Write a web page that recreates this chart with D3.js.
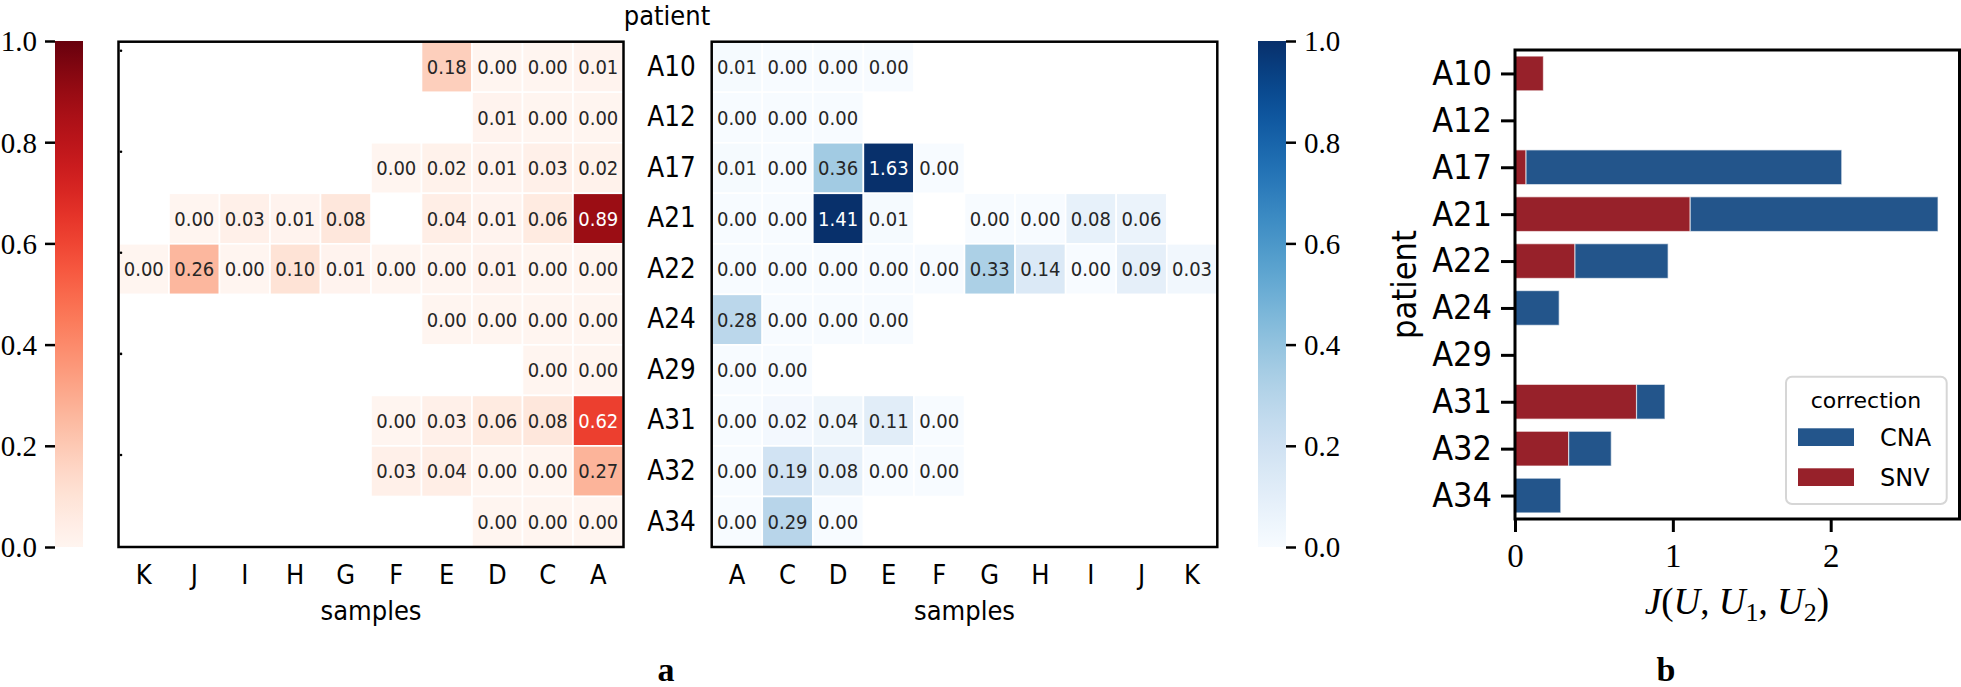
<!DOCTYPE html>
<html>
<head>
<meta charset="utf-8">
<script src="https://cdn.jsdelivr.net/npm/d3@7"></script>
<style>
  body { margin: 0; background: #fff; }
  svg text { font-family: "DejaVu Sans", sans-serif; fill: #000; }
  .cond, .cond text { font-family: "DejaVu Sans Condensed", "DejaVu Sans", sans-serif; font-stretch: condensed; }
  .serif text, text.serif { font-family: "Liberation Serif", serif; }
</style>
</head>
<body>
<svg width="1961" height="687"></svg>
<script>

//
// data
//
var patients = ['A10', 'A12', 'A17', 'A21', 'A22', 'A24', 'A29', 'A31', 'A32', 'A34'];
var snvSamples = ['K', 'J', 'I', 'H', 'G', 'F', 'E', 'D', 'C', 'A'];
var cnaSamples = ['A', 'C', 'D', 'E', 'F', 'G', 'H', 'I', 'J', 'K'];

// SNV correction, one row per patient, columns follow snvSamples (null = no sample)
var snvValues = [
  [null, null, null, null, null, null, 0.18, 0.00, 0.00, 0.01],
  [null, null, null, null, null, null, null, 0.01, 0.00, 0.00],
  [null, null, null, null, null, 0.00, 0.02, 0.01, 0.03, 0.02],
  [null, 0.00, 0.03, 0.01, 0.08, null, 0.04, 0.01, 0.06, 0.89],
  [0.00, 0.26, 0.00, 0.10, 0.01, 0.00, 0.00, 0.01, 0.00, 0.00],
  [null, null, null, null, null, null, 0.00, 0.00, 0.00, 0.00],
  [null, null, null, null, null, null, null, null, 0.00, 0.00],
  [null, null, null, null, null, 0.00, 0.03, 0.06, 0.08, 0.62],
  [null, null, null, null, null, 0.03, 0.04, 0.00, 0.00, 0.27],
  [null, null, null, null, null, null, null, 0.00, 0.00, 0.00]
];

// CNA correction, columns follow cnaSamples
var cnaValues = [
  [0.01, 0.00, 0.00, 0.00, null, null, null, null, null, null],
  [0.00, 0.00, 0.00, null, null, null, null, null, null, null],
  [0.01, 0.00, 0.36, 1.63, 0.00, null, null, null, null, null],
  [0.00, 0.00, 1.41, 0.01, null, 0.00, 0.00, 0.08, 0.06, null],
  [0.00, 0.00, 0.00, 0.00, 0.00, 0.33, 0.14, 0.00, 0.09, 0.03],
  [0.28, 0.00, 0.00, 0.00, null, null, null, null, null, null],
  [0.00, 0.00, null, null, null, null, null, null, null, null],
  [0.00, 0.02, 0.04, 0.11, 0.00, null, null, null, null, null],
  [0.00, 0.19, 0.08, 0.00, 0.00, null, null, null, null, null],
  [0.00, 0.29, 0.00, null, null, null, null, null, null, null]
];

// panel b, stacked bars
var barSNV = [0.18, 0, 0.07, 1.11, 0.38, 0, 0, 0.77, 0.34, 0];
var barCNA = [0, 0, 2.00, 1.57, 0.59, 0.28, 0, 0.18, 0.27, 0.29];
var corrections = ['CNA', 'SNV'];
var colorbarTicks = [0, 0.2, 0.4, 0.6, 0.8, 1.0];
var barTicks = [0, 1, 2];

var svg = d3.select('svg');
var corrColor = {CNA: '#23558b', SNV: '#97212a'};

// seaborn picks the annotation colour from the cell luminance
function textColor(c) {
  var rgb = d3.rgb(c);
  var lin = [rgb.r, rgb.g, rgb.b].map(function (v) {
    v = v / 255;
    return v <= 0.03928 ? v / 12.92 : Math.pow((v + 0.055) / 1.055, 2.4);
  });
  var l = 0.2126 * lin[0] + 0.7152 * lin[1] + 0.0722 * lin[2];
  return l > 0.408 ? '#262626' : '#fff';
}

//
// heatmaps
//
var heatTop = 41.7, heatBottom = 547;
var yHeat = d3.scaleBand().domain(patients).range([heatTop, heatBottom]);

function heatmap(x0, x1, samples, values, interp) {
  var x = d3.scaleBand().domain(samples).range([x0, x1]);
  var color = d3.scaleSequential(interp).domain([0, 1]).clamp(true);
  var g = svg.append('g').attr('class', 'cond');
  var cells = [];
  values.forEach(function (row, i) {
    row.forEach(function (v, j) {
      if (v !== null) cells.push({p: patients[i], s: samples[j], v: v});
    });
  });
  var cell = g.selectAll('g.cell').data(cells).enter().append('g').attr('class', 'cell');
  cell.append('rect')
    .attr('x', function (d) { return x(d.s); })
    .attr('y', function (d) { return yHeat(d.p); })
    .attr('width', x.bandwidth())
    .attr('height', yHeat.bandwidth())
    .attr('fill', function (d) { return color(d.v); })
    .attr('stroke', '#fff')
    .attr('stroke-width', 1.6);
  cell.append('text')
    .attr('x', function (d) { return x(d.s) + x.bandwidth() / 2; })
    .attr('y', function (d) { return yHeat(d.p) + yHeat.bandwidth() / 2; })
    .attr('dy', '0.36em')
    .attr('text-anchor', 'middle')
    .style('font-size', '20px')
    .style('fill', function (d) { return textColor(color(d.v)); })
    .text(function (d) { return d3.format('.2f')(d.v); });

  g.append('rect')
    .attr('x', x0).attr('y', heatTop)
    .attr('width', x1 - x0).attr('height', heatBottom - heatTop)
    .attr('fill', 'none').attr('stroke', '#000').attr('stroke-width', 2.5);

  var ax = g.append('g')
    .attr('transform', 'translate(0,' + heatBottom + ')')
    .call(d3.axisBottom(x).tickSize(0).tickPadding(18));
  ax.select('.domain').remove();
  ax.attr('font-family', null);
  ax.selectAll('text').style('font-size', '27px');

  g.append('text')
    .attr('x', (x0 + x1) / 2).attr('y', 620)
    .attr('text-anchor', 'middle')
    .style('font-size', '27px')
    .text('samples');
  return x;
}

var xLeft = heatmap(118.5, 623.5, snvSamples, snvValues, d3.interpolateReds);
var xMid = heatmap(711.7, 1217.3, cnaSamples, cnaValues, d3.interpolateBlues);

// tiny marks on the left spine of panel a
svg.append('g').selectAll('circle')
  .data(patients.filter(function (p, i) { return i % 2 === 0; }))
  .enter().append('circle')
  .attr('cx', 121).attr('cy', function (p) { return yHeat(p) + 9; })
  .attr('r', 1.3).attr('fill', '#000');

// patient names between the two heatmaps
var pax = svg.append('g')
  .attr('class', 'cond')
  .attr('transform', 'translate(711.7,0)')
  .call(d3.axisLeft(yHeat).tickSize(0).tickPadding(16));
pax.select('.domain').remove();
pax.attr('font-family', null);
pax.selectAll('text').style('font-size', '27.5px');

svg.append('text')
  .attr('class', 'cond')
  .attr('x', 667).attr('y', 25)
  .attr('text-anchor', 'middle')
  .style('font-size', '27px')
  .text('patient');

//
// colour bars
//
var defs = svg.append('defs');
function colorbar(id, x, interp, side) {
  var grad = defs.append('linearGradient').attr('id', id)
    .attr('x1', 0).attr('y1', 1).attr('x2', 0).attr('y2', 0);
  d3.range(0, 1.0001, 0.05).forEach(function (t) {
    grad.append('stop').attr('offset', t).attr('stop-color', interp(t));
  });
  svg.append('rect')
    .attr('x', x).attr('y', 41).attr('width', 28).attr('height', 506)
    .attr('fill', 'url(#' + id + ')');
  var s = d3.scaleLinear().domain([0, 1]).range([547, 41]);
  var axis = side === 'left' ? d3.axisLeft(s) : d3.axisRight(s);
  var g = svg.append('g')
    .attr('class', 'serif')
    .attr('transform', 'translate(' + (side === 'left' ? x : x + 28) + ',0)')
    .call(axis.tickValues(colorbarTicks).tickFormat(d3.format('.1f')).tickSize(10).tickPadding(8));
  g.select('.domain').remove();
  g.selectAll('line').attr('stroke', '#000').attr('stroke-width', 2.5);
  g.selectAll('text').style('font-size', '29px').attr('dy', '0.34em');
}
colorbar('gradReds', 55, d3.interpolateReds, 'left');
colorbar('gradBlues', 1258, d3.interpolateBlues, 'right');

//
// panel b: stacked horizontal bars
//
var bx0 = 1515, bx1 = 1959.5, by0 = 50, by1 = 519;
var xBar = d3.scaleLinear().domain([0, 2.816]).range([bx0, bx1]);
var yBar = d3.scalePoint().domain(patients).range([by0, by1]).padding(0.5);
var barH = yBar.step() * 0.74;

var bars = svg.append('g');
bars.selectAll('rect.snv').data(barSNV).enter().append('rect')
  .attr('class', 'snv')
  .attr('x', xBar(0))
  .attr('y', function (d, i) { return yBar(patients[i]) - barH / 2; })
  .attr('width', function (d) { return xBar(d) - xBar(0); })
  .attr('height', barH)
  .attr('fill', corrColor.SNV)
  .attr('stroke', function (d) { return d > 0 ? '#fff' : 'none'; })
  .attr('stroke-opacity', 0.6)
  .attr('stroke-width', 1.2);
bars.selectAll('rect.cna').data(barCNA).enter().append('rect')
  .attr('class', 'cna')
  .attr('x', function (d, i) { return xBar(barSNV[i]); })
  .attr('y', function (d, i) { return yBar(patients[i]) - barH / 2; })
  .attr('width', function (d, i) { return xBar(barSNV[i] + d) - xBar(barSNV[i]); })
  .attr('height', barH)
  .attr('fill', corrColor.CNA)
  .attr('stroke', function (d) { return d > 0 ? '#fff' : 'none'; })
  .attr('stroke-opacity', 0.6)
  .attr('stroke-width', 1.2);

svg.append('rect')
  .attr('x', bx0).attr('y', by0)
  .attr('width', bx1 - bx0).attr('height', by1 - by0)
  .attr('fill', 'none').attr('stroke', '#000').attr('stroke-width', 3);

var yax = svg.append('g')
  .attr('class', 'cond')
  .attr('transform', 'translate(' + bx0 + ',0)')
  .call(d3.axisLeft(yBar).tickSize(14).tickPadding(9));
yax.select('.domain').remove();
yax.attr('font-family', null);
yax.selectAll('line').attr('stroke', '#000').attr('stroke-width', 3);
yax.selectAll('text').style('font-size', '34px');

var xax = svg.append('g')
  .attr('class', 'serif')
  .attr('transform', 'translate(0,' + by1 + ')')
  .call(d3.axisBottom(xBar).tickValues(barTicks).tickFormat(d3.format('d')).tickSize(13).tickPadding(12));
xax.select('.domain').remove();
xax.selectAll('line').attr('stroke', '#000').attr('stroke-width', 3);
xax.selectAll('text').style('font-size', '33px');

svg.append('text')
  .attr('class', 'cond')
  .attr('transform', 'translate(1416,' + ((by0 + by1) / 2) + ') rotate(-90)')
  .attr('text-anchor', 'middle')
  .style('font-size', '34px')
  .text('patient');

// x label J(U, U1, U2)
var xl = svg.append('text')
  .attr('class', 'serif')
  .attr('x', 1737).attr('y', 614)
  .attr('text-anchor', 'middle')
  .style('font-size', '37px');
[['J', 1], ['(', 0], ['U', 1], [', ', 0], ['U', 1], ['1', 2], [', ', 0], ['U', 1], ['2', 2], [')', 0]]
  .forEach(function (p, i, arr) {
    var t = xl.append('tspan').text(p[0]);
    if (p[1] === 1) t.style('font-style', 'italic');
    if (p[1] === 2) t.attr('dy', 7).style('font-size', '26px');
    else if (i > 0 && arr[i - 1][1] === 2) t.attr('dy', -7);
  });

// legend
var lg = svg.append('g');
lg.append('rect')
  .attr('x', 1786).attr('y', 376.7).attr('width', 160.7).attr('height', 127.3)
  .attr('rx', 6).attr('fill', '#fff').attr('fill-opacity', 0.8)
  .attr('stroke', '#d6d6d6').attr('stroke-width', 2);
lg.append('text')
  .attr('x', 1866).attr('y', 408)
  .attr('text-anchor', 'middle')
  .style('font-size', '22px')
  .text('correction');
var item = lg.selectAll('g.item').data(corrections).enter().append('g')
  .attr('class', 'item')
  .attr('transform', function (d, i) { return 'translate(1798,' + (428.3 + i * 40) + ')'; });
item.append('rect')
  .attr('width', 56).attr('height', 17.7)
  .attr('fill', function (d) { return corrColor[d]; });
item.append('text')
  .attr('x', 82).attr('y', 18)
  .style('font-size', '24px')
  .text(function (d) { return d; });

// panel letters
svg.append('text').attr('x', 666).attr('y', 681)
  .attr('text-anchor', 'middle').attr('class', 'serif')
  .style('font-size', '34px').style('font-weight', 'bold').text('a');
svg.append('text').attr('x', 1666).attr('y', 681)
  .attr('text-anchor', 'middle').attr('class', 'serif')
  .style('font-size', '34px').style('font-weight', 'bold').text('b');

</script>
</body>
</html>
